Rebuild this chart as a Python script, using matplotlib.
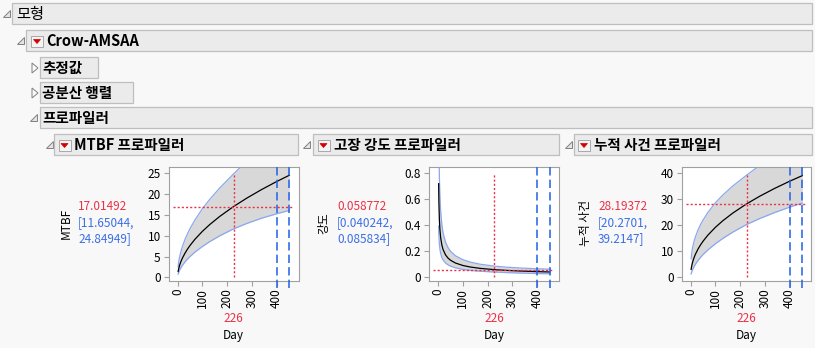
"""
Crow-AMSAA profiler report (JMP style) redrawn with matplotlib.
Three profilers: MTBF, failure intensity and cumulative events vs Day.
"""

import matplotlib

matplotlib.use("Agg")
import matplotlib.pyplot as plt
from matplotlib.patches import Polygon, Rectangle

# ════════════════════════════════════════════════════════════════════
#  Data
# ════════════════════════════════════════════════════════════════════

day = [2, 3, 5, 7, 10, 15, 20, 30, 40, 50, 70, 100, 130, 170, 226, 280, 340, 400, 452]

mtbf = [1.397, 1.731, 2.268, 2.709, 3.272, 4.054, 4.720, 5.849, 6.810, 7.663,
        9.155, 11.056, 12.700, 14.637, 17.01492, 19.056, 21.119, 23.014, 24.549]
mtbf_lo = [0.767, 0.969, 1.308, 1.595, 1.965, 2.484, 2.950, 3.730, 4.408, 5.010,
           6.076, 7.411, 8.599, 9.980, 11.65044, 12.967, 14.227, 15.273, 16.098]
mtbf_hi = [2.545, 3.092, 3.931, 4.602, 5.449, 6.617, 7.552, 9.173, 10.521, 11.721,
           13.795, 16.493, 18.758, 21.468, 24.84949, 28.005, 31.349, 34.678, 37.437]

intensity = [0.7158, 0.5777, 0.4409, 0.3691, 0.3056, 0.2467, 0.2119, 0.1710, 0.1468, 0.1305,
             0.1092, 0.0904, 0.0787, 0.0683, 0.058772, 0.0525, 0.0474, 0.0435, 0.0407]
intensity_lo = [0.3929, 0.3234, 0.2544, 0.2173, 0.1835, 0.1511, 0.1324, 0.1090, 0.0950, 0.0853,
                0.0725, 0.0606, 0.0533, 0.0466, 0.040242, 0.0357, 0.0319, 0.0288, 0.0267]
intensity_hi = [1.304, 1.032, 0.7645, 0.6270, 0.5089, 0.4026, 0.3390, 0.2681, 0.2269, 0.1996,
                0.1646, 0.1349, 0.1163, 0.1002, 0.085834, 0.0771, 0.0703, 0.0655, 0.0621]

cumulative = [3.038, 3.678, 4.680, 5.483, 6.486, 7.853, 8.992, 10.885, 12.465, 13.847,
              16.226, 19.197, 21.721, 24.649, 28.19372, 31.183, 34.171, 36.890, 39.078]
cumulative_lo = [1.286, 1.653, 2.244, 2.750, 3.403, 4.331, 5.136, 6.504, 7.675, 8.725,
                 10.555, 12.868, 14.929, 17.335, 20.2701, 22.598, 24.888, 26.939, 28.547]
cumulative_hi = [7.179, 8.185, 9.761, 10.931, 12.362, 14.238, 15.742, 18.217, 20.246, 21.977,
                 24.944, 28.638, 31.604, 35.048, 39.2147, 43.030, 46.917, 50.517, 53.494]

current_day = 226
ref_days = [400, 452]

x_ticks = [0, 100, 200, 300, 400]
mtbf_ticks = [0, 5, 10, 15, 20, 25]
intensity_ticks = [0, 0.2, 0.4, 0.6, 0.8]
intensity_tick_labels = ["0", "0.2", "0.4", "0.6", "0.8"]
cumulative_ticks = [0, 10, 20, 30, 40]

mtbf_readout = ["17.01492", "[11.65044,", "24.84949]"]
intensity_readout = ["0.058772", "[0.040242,", "0.085834]"]
cumulative_readout = ["28.19372", "[20.2701,", "39.2147]"]

# ════════════════════════════════════════════════════════════════════
#  Look
# ════════════════════════════════════════════════════════════════════

W, H = 815, 348
PAGE = "#F8F8F8"
BAR = "#EBEBEB"
BAR_EDGE = "#BEBEBE"
RED = "#EC3047"
BLUE_TXT = "#3B6EE6"
BLUE_LINE = "#2160E8"
BAND = "#D8D8D8"
BAND_EDGE = "#8AA8F0"
AXIS = "#A0A0A0"

plt.rcParams["font.family"] = ["Noto Sans CJK KR", "DejaVu Sans"]
plt.rcParams["lines.scale_dashes"] = False


def header(bg, x0, y0, x1, y1, text, tx, bold=True, size=10.5):
    bg.add_patch(Rectangle((x0, y0), x1 - x0, y1 - y0, facecolor=BAR,
                           edgecolor=BAR_EDGE, lw=0.9))
    bg.text(tx, (y0 + y1) / 2 + 0.5, text, fontsize=size, va="center", ha="left",
            fontweight="bold" if bold else "normal", color="black")


def open_triangle(bg, x, y):
    # JMP "open" disclosure icon, corner at bottom right
    bg.add_patch(Polygon([(x, y + 7), (x + 7, y + 7), (x + 7, y)], closed=True,
                         facecolor="#E4E4E4", edgecolor="#808080", lw=0.7))


def closed_triangle(bg, x, y):
    bg.add_patch(Polygon([(x, y), (x, y + 10), (x + 6, y + 5)], closed=True,
                         facecolor="#FAFAFA", edgecolor="#808080", lw=0.7))


def red_button(bg, x, y):
    bg.add_patch(Rectangle((x, y), 12, 11, facecolor="#F4F4F4",
                           edgecolor="#A8A8A8", lw=0.7))
    bg.add_patch(Polygon([(x + 2.5, y + 4), (x + 9.5, y + 4), (x + 6, y + 8)],
                         closed=True, facecolor="#D40000", edgecolor="#D40000", lw=0.5))


def profiler(fig, bg, left, y, lo, hi, ylim, yticks, yticklabels, ylabel,
             label_x, readout, readout_x):
    ax = fig.add_axes([left / W, (H - 280.7) / H, 130 / W, 114 / H])
    ax.set_facecolor("white")

    ax.fill_between(day, lo, hi, color=BAND, lw=0, zorder=1)
    ax.plot(day, lo, color=BAND_EDGE, lw=0.9, zorder=2)
    ax.plot(day, hi, color=BAND_EDGE, lw=0.9, zorder=2)
    ax.plot(day, y, color="black", lw=0.9, zorder=3)

    cur = y[day.index(current_day)]
    ax.axvline(current_day, ymin=0.03, ymax=0.947, color=RED, lw=1.0,
               dashes=(1.5, 1.5), zorder=4)
    ax.axhline(cur, xmin=0.033, xmax=0.95, color=RED, lw=1.0,
               dashes=(1.5, 1.5), zorder=4)
    for xv in ref_days:
        ax.plot([xv, xv], [-0.06, 1], transform=ax.get_xaxis_transform(),
                clip_on=False, color=BLUE_LINE, lw=1.1, dashes=(6, 3), zorder=5)

    ax.set_xlim(-37, 489)
    ax.set_ylim(*ylim)
    ax.set_xticks(x_ticks)
    ax.set_xticklabels([str(v) for v in x_ticks], rotation=90)
    ax.set_yticks(yticks)
    ax.set_yticklabels(yticklabels)
    ax.tick_params(direction="out", length=3.6, width=0.8, color=AXIS,
                   labelsize=8.5, pad=2)
    for sp in ax.spines.values():
        sp.set_color(AXIS)
        sp.set_linewidth(0.8)

    # Texts around the plot
    cx = left + 65
    bg.text(cx, 318, str(current_day), color=RED, fontsize=8.5, ha="center", va="center")
    bg.text(cx, 335, "Day", color="black", fontsize=8.5, ha="center", va="center")
    bg.text(label_x, 223, ylabel, rotation=90, fontsize=8.5, ha="center", va="center")
    for i, (s, c) in enumerate(zip(readout, [RED, BLUE_TXT, BLUE_TXT])):
        bg.text(readout_x, 206.5 + i * 16.2, s, color=c, fontsize=8.5,
                ha="left", va="center")
    return ax


def main():
    fig = plt.figure(figsize=(W / 100, H / 100), dpi=100, facecolor=PAGE)

    # Full-figure pixel canvas for the report chrome
    bg = fig.add_axes([0, 0, 1, 1])
    bg.set_xlim(0, W)
    bg.set_ylim(H, 0)
    bg.axis("off")
    bg.set_facecolor(PAGE)

    # 1. Outline headers
    open_triangle(bg, 2.5, 10)
    header(bg, 12, 3, 812, 24, "모형", 16, bold=False, size=11)

    open_triangle(bg, 16.5, 37)
    header(bg, 26, 30, 812, 51, "Crow-AMSAA", 46.5)
    red_button(bg, 31, 35.5)

    closed_triangle(bg, 32, 63)
    header(bg, 40, 57, 98, 78, "추정값", 42.5)
    closed_triangle(bg, 32, 88)
    header(bg, 40, 82, 133, 103, "공분산 행렬", 42.5)

    open_triangle(bg, 30, 114)
    header(bg, 40, 107, 812, 128, "프로파일러", 42.5)

    open_triangle(bg, 45.5, 141)
    header(bg, 54, 134, 298, 155, "MTBF 프로파일러", 74)
    red_button(bg, 58.5, 139.5)

    open_triangle(bg, 303, 141)
    header(bg, 313, 134, 559, 155, "고장 강도 프로파일러", 333.5)
    red_button(bg, 317.5, 139.5)

    open_triangle(bg, 565, 141)
    header(bg, 574, 134, 812, 155, "누적 사건 프로파일러", 594)
    red_button(bg, 578, 139.5)

    # 2. The three profilers
    profiler(fig, bg, 168.5, mtbf, mtbf_lo, mtbf_hi, (-0.8, 26.6),
             mtbf_ticks, [str(v) for v in mtbf_ticks], "MTBF", 66.5,
             mtbf_readout, 78)
    profiler(fig, bg, 429, intensity, intensity_lo, intensity_hi, (-0.026, 0.846),
             intensity_ticks, intensity_tick_labels, "강도", 324,
             intensity_readout, 337)
    profiler(fig, bg, 681.5, cumulative, cumulative_lo, cumulative_hi, (-1.3, 42.5),
             cumulative_ticks, [str(v) for v in cumulative_ticks], "누적 사건", 585,
             cumulative_readout, 598)

    fig.savefig("out.png", dpi=100, facecolor=PAGE)


if __name__ == "__main__":
    main()
